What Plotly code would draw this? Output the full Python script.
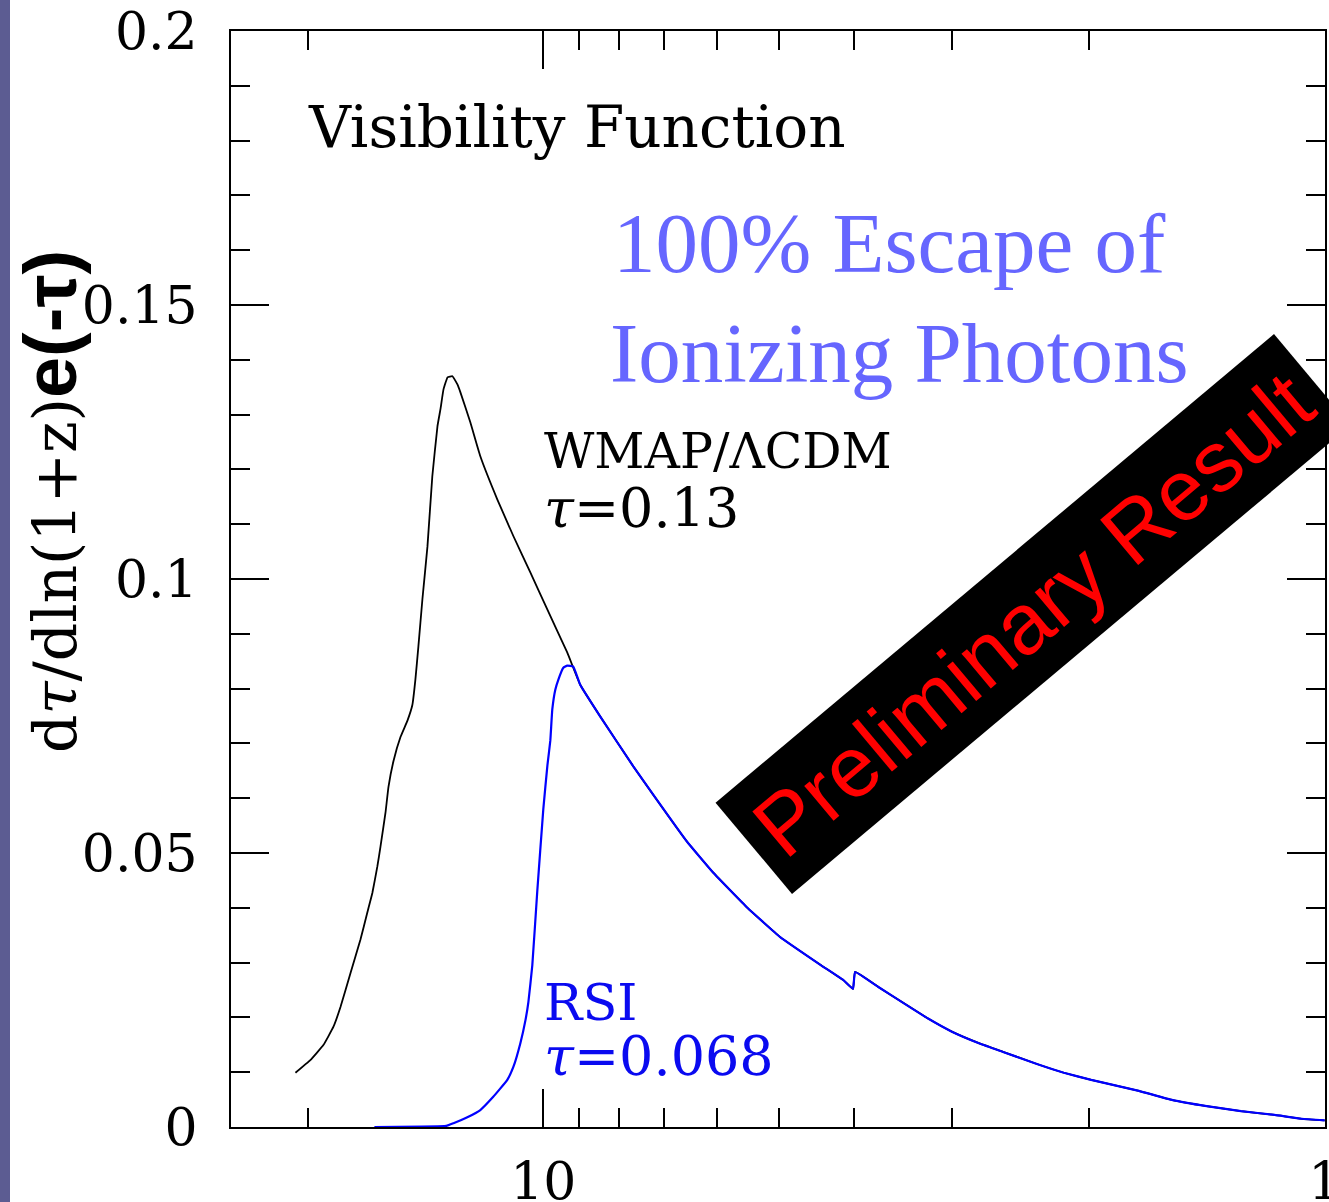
import plotly.graph_objects as go

# ---- data (1+z, visibility) ----
wmap_x = [20.76, 19.87, 19.11, 18.56, 18.18, 17.65, 17.14, 16.80, 16.55, 16.31, 16.16, 15.92,
          15.78, 15.55, 15.23, 14.92, 14.71, 14.58, 14.45, 14.28, 14.07, 13.87, 13.66, 13.54,
          13.42, 13.26, 13.07, 12.88, 12.77, 12.40, 12.04, 11.45, 10.92, 10.39, 9.88, 9.32,
          8.97, 8.455, 7.67, 7.23, 6.55, 6.06, 5.48, 4.98, 4.42, 4.13, 4.015, 3.99, 3.73,
          3.475, 3.21, 3.0, 2.76, 2.58, 2.335, 2.157, 1.99, 1.729, 1.565, 1.416, 1.28, 1.159,
          1.07, 1.0]
wmap_y = [0.0099, 0.0122, 0.0150, 0.0183, 0.0219, 0.0281, 0.0342, 0.0391, 0.0427, 0.0475,
          0.0511, 0.0574, 0.0621, 0.0668, 0.0712, 0.0742, 0.0770, 0.0816, 0.0877, 0.0963,
          0.1059, 0.1187, 0.1279, 0.1310, 0.1346, 0.1368, 0.1370, 0.1355, 0.1341, 0.1286,
          0.1224, 0.1145, 0.1078, 0.1012, 0.0944, 0.0866, 0.0807, 0.0749, 0.0658, 0.0606,
          0.0521, 0.0464, 0.0400, 0.0347, 0.0296, 0.0268, 0.0252, 0.0283, 0.0256, 0.0228,
          0.0197, 0.0174, 0.0152, 0.0137, 0.0115, 0.0099, 0.0086, 0.0066, 0.0049, 0.0038,
          0.0029, 0.0022, 0.0015, 0.0012]

rsi_x = [16.45, 13.31, 13.03, 12.51, 12.04, 11.59, 11.12, 10.92, 10.70, 10.54, 10.45, 10.33,
         10.18, 10.0, 9.88, 9.796, 9.739, 9.653, 9.568, 9.428, 9.318, 9.155, 8.97, 8.455,
         7.67, 7.23, 6.55, 6.06, 5.48, 4.98, 4.42, 4.13, 4.015, 3.99, 3.73, 3.475, 3.21, 3.0,
         2.76, 2.58, 2.335, 2.157, 1.99, 1.729, 1.565, 1.416, 1.28, 1.159, 1.07, 1.0]
rsi_y = [0.0, 0.0002, 0.0007, 0.0018, 0.0031, 0.0055, 0.0086, 0.0110, 0.0153, 0.0195, 0.0228,
         0.0295, 0.0430, 0.0580, 0.0660, 0.0705, 0.0762, 0.0798, 0.0816, 0.0838, 0.0842,
         0.0840, 0.0807, 0.0749, 0.0658, 0.0606, 0.0521, 0.0464, 0.0400, 0.0347, 0.0296,
         0.0268, 0.0252, 0.0283, 0.0256, 0.0228, 0.0197, 0.0174, 0.0152, 0.0137, 0.0115,
         0.0099, 0.0086, 0.0066, 0.0049, 0.0038, 0.0029, 0.0022, 0.0015, 0.0012]

x_major_ticks = [10, 1]
x_major_labels = ["10", "1"]
x_minor_ticks = [20, 9, 8, 7, 6, 5, 4, 3, 2]

# ---- layout geometry ----
W, H = 1329, 1202
L, R, T, B = 231, 4, 31, 75
PW, PH = W - L - R, H - T - B


def px(xp):
    return (xp - L) / PW


def py(yp):
    return (T + PH - yp) / PH


SERIF = "DejaVu Serif"

fig = go.Figure()
fig.add_trace(go.Scatter(x=wmap_x, y=wmap_y, mode="lines", line_shape="spline",
                         line=dict(color="black", width=1.8, smoothing=0.3), showlegend=False))
fig.add_trace(go.Scatter(x=rsi_x, y=rsi_y, mode="lines", line_shape="spline",
                         line=dict(color="#0000ff", width=2.2, smoothing=0.3), showlegend=False))

axis_common = dict(showline=True, linecolor="black", linewidth=2, mirror="allticks",
                   ticks="inside", ticklen=38, tickwidth=2, tickcolor="black",
                   showgrid=False, zeroline=False,
                   tickfont=dict(family=SERIF, size=52, color="black"))

fig.update_xaxes(type="log", range=[1.3997, -0.0004], tickmode="array",
                 tickvals=x_major_ticks, ticktext=x_major_labels,
                 minor=dict(tickmode="array", tickvals=x_minor_ticks, ticklen=19,
                            tickwidth=2, tickcolor="black", ticks="inside"),
                 ticklabelstandoff=8, ticklabeloverflow="allow", **axis_common)
fig.update_yaxes(range=[0, 0.2], dtick=0.05, tick0=0,
                 minor=dict(dtick=0.01, ticklen=19, tickwidth=2, tickcolor="black",
                            ticks="inside"),
                 ticklabelstandoff=21, **axis_common)

anns = []


def ann(text, x, y, size, color="black", family=SERIF, xanchor="left", **kw):
    anns.append(dict(text=text, x=px(x), y=py(y), xref="paper", yref="paper",
                     xanchor=xanchor, yanchor="middle", showarrow=False,
                     font=dict(family=family, size=size, color=color), **kw))


ann("Visibility Function", 306, 127, 58)
ann("100% Escape of", 611, 243, 85, color="#6666ff", family="Liberation Serif")
ann("Ionizing Photons", 608, 353, 85, color="#6666ff", family="Liberation Serif")
ann("WMAP/ΛCDM", 542, 452, 49)
ann("<i>τ</i>=0.13", 542, 508, 54)
ann("RSI", 542, 1002, 51, color="#0a0af0")
ann("<i>τ</i>=0.068", 542, 1056, 54, color="#0a0af0")
ann("Preliminary Result", 1033, 614, 86, color="#ff0000", family="Liberation Sans",
    xanchor="center", textangle=-40, bgcolor="black", width=728, height=118, borderpad=0)
ann("d<i>τ</i>/dln(1+z)<span style='font-family:Liberation Sans;font-weight:bold;font-size:74px'>e(-τ)</span>",
    50, 502, 60, xanchor="center", textangle=-90)

fig.update_layout(
    width=W, height=H, margin=dict(l=L, r=R, t=T, b=B, autoexpand=False),
    paper_bgcolor="white", plot_bgcolor="white", annotations=anns,
    shapes=[dict(type="rect", xref="paper", yref="paper", x0=px(0), x1=px(10),
                 y0=py(H), y1=py(0), fillcolor="#5c5c92", line=dict(width=0), layer="below")],
)

fig.write_html("out.html")
